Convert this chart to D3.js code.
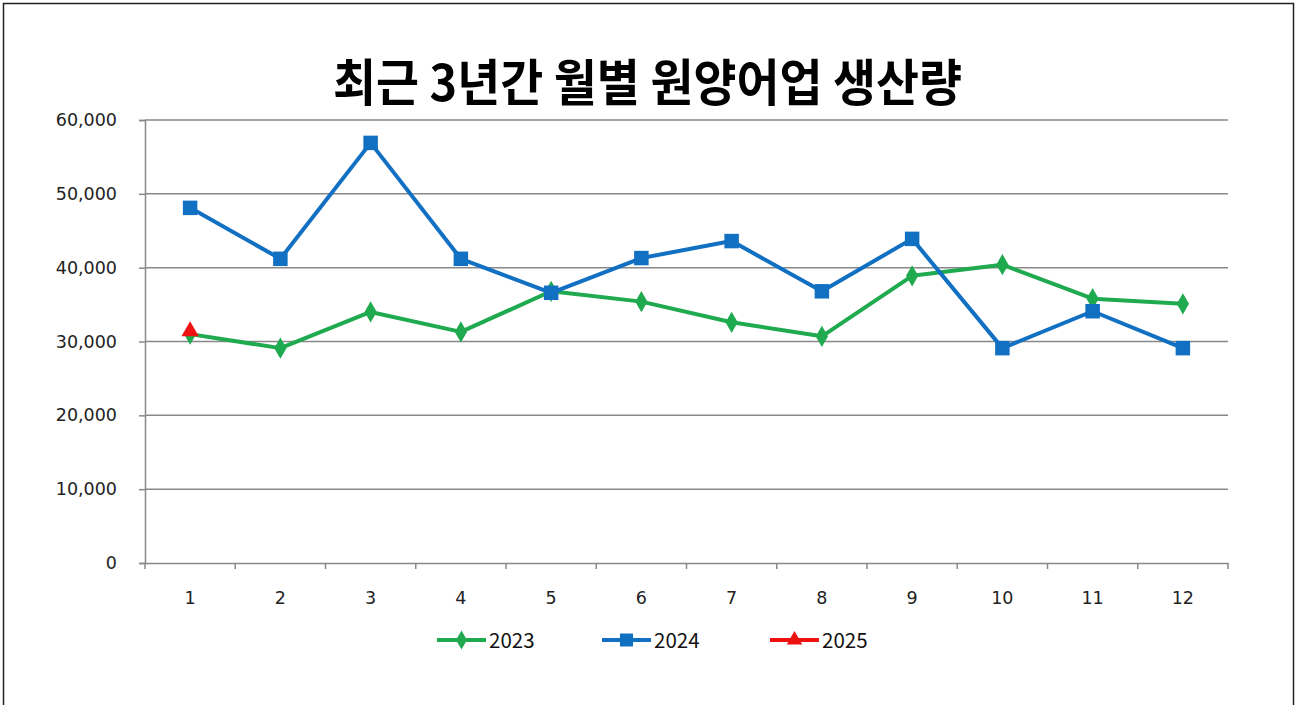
<!DOCTYPE html>
<html>
<head>
<meta charset="utf-8">
<script src="https://cdn.jsdelivr.net/npm/d3@7"></script>
<style>
body{margin:0;background:#fff;}
text{font-family:"Noto Sans CJK KR","Noto Sans",sans-serif;}
</style>
</head>
<body>
<script>
// 월별 원양어업 생산량 (톤)
const months = [1,2,3,4,5,6,7,8,9,10,11,12];
const y2023 = [31000,29100,34000,31300,36800,35400,32600,30700,38900,40400,35800,35100];
const y2024 = [48100,41200,56900,41200,36600,41300,43600,36800,43900,29100,34100,29100];
const y2025 = [31400];
const yTicks = [0,10000,20000,30000,40000,50000,60000];
const seriesNames = ["2023","2024","2025"];

window.onload=function(){
	var W=1297,H=705;
	var svg=d3.select("body").append("svg").attr("width",W).attr("height",H);

	// outer frame
	svg.append("rect").attr("x",3.5).attr("y",3.5).attr("width",1290).attr("height",710)
		.attr("fill","#fff").attr("stroke","#222").attr("stroke-width",1.5);

	var left=145,right=1228,top=120,bottom=563;
	var x=d3.scaleBand().domain(months).range([left,right]);
	var y=d3.scaleLinear().domain([0,60000]).range([bottom,top]);
	var fmt=d3.format(",");

	svg.append("text").attr("x",333).attr("y",101)
		.attr("font-size",50).attr("font-weight","bold").attr("fill","#000")
		.attr("textLength",629).attr("lengthAdjust","spacingAndGlyphs")
		.text("최근 3년간 월별 원양어업 생산량");

	// grid
	svg.append("g").selectAll("line").data(yTicks.filter(d=>d>0)).enter().append("line")
		.attr("x1",left).attr("x2",right).attr("y1",d=>y(d)).attr("y2",d=>y(d))
		.attr("stroke","#888").attr("stroke-width",1.5);

	var yAxis=svg.append("g").attr("transform","translate("+left+",0)")
		.call(d3.axisLeft(y).tickValues(yTicks).tickFormat(fmt).tickSize(6).tickPadding(22));
	var xAxis=svg.append("g").attr("transform","translate(0,"+bottom+")")
		.call(d3.axisBottom(x).tickSize(0).tickPadding(29));
	[yAxis,xAxis].forEach(function(a){
		a.select(".domain").attr("stroke","#888").attr("stroke-width",1.5);
		a.selectAll(".tick line").attr("stroke","#888").attr("stroke-width",1.5);
		a.selectAll("text").style("font-size","17.5px").style("fill","#222")
			.style("font-family","'DejaVu Sans',sans-serif");
	});
	// category boundary ticks on x axis
	svg.append("g").selectAll("line").data(months.concat([13])).enter().append("line")
		.attr("x1",d=>d<=12?x(d):right).attr("x2",d=>d<=12?x(d):right)
		.attr("y1",bottom).attr("y2",bottom+6)
		.attr("stroke","#888").attr("stroke-width",1.5);

	var cx=d=>x(d)+x.bandwidth()/2;
	var series=[
		{name:seriesNames[0],vals:y2023,color:"#1faa4f",shape:d3.symbolDiamond,size:130},
		{name:seriesNames[1],vals:y2024,color:"#1170c2",shape:d3.symbolSquare,size:210},
		{name:seriesNames[2],vals:y2025,color:"#ee1111",shape:d3.symbolTriangle,size:130}
	];
	var line=d3.line().x((d,i)=>cx(months[i])).y(d=>y(d));
	series.forEach(function(s){
		svg.append("path").datum(s.vals).attr("d",line).attr("fill","none")
			.attr("stroke",s.color).attr("stroke-width",4).attr("stroke-linejoin","round");
		svg.append("g").selectAll("path").data(s.vals).enter().append("path")
			.attr("d",d3.symbol().type(s.shape).size(s.size))
			.attr("transform",(d,i)=>"translate("+cx(months[i])+","+y(d)+")")
			.attr("fill",s.color);
	});

	// legend
	var lx=[437,602,770];
	var lg=svg.append("g").selectAll("g").data(series).enter().append("g")
		.attr("transform",(d,i)=>"translate("+lx[i]+",640)");
	lg.append("line").attr("x1",0).attr("x2",49).attr("stroke",d=>d.color).attr("stroke-width",4);
	lg.append("path").attr("d",d=>d3.symbol().type(d.shape).size(d.size*0.8)())
		.attr("transform","translate(24.5,0)").attr("fill",d=>d.color);
	lg.append("text").attr("x",52).attr("y",7.5).attr("font-size",20.5).attr("fill","#111").text(d=>d.name);
}
</script>
</body>
</html>
